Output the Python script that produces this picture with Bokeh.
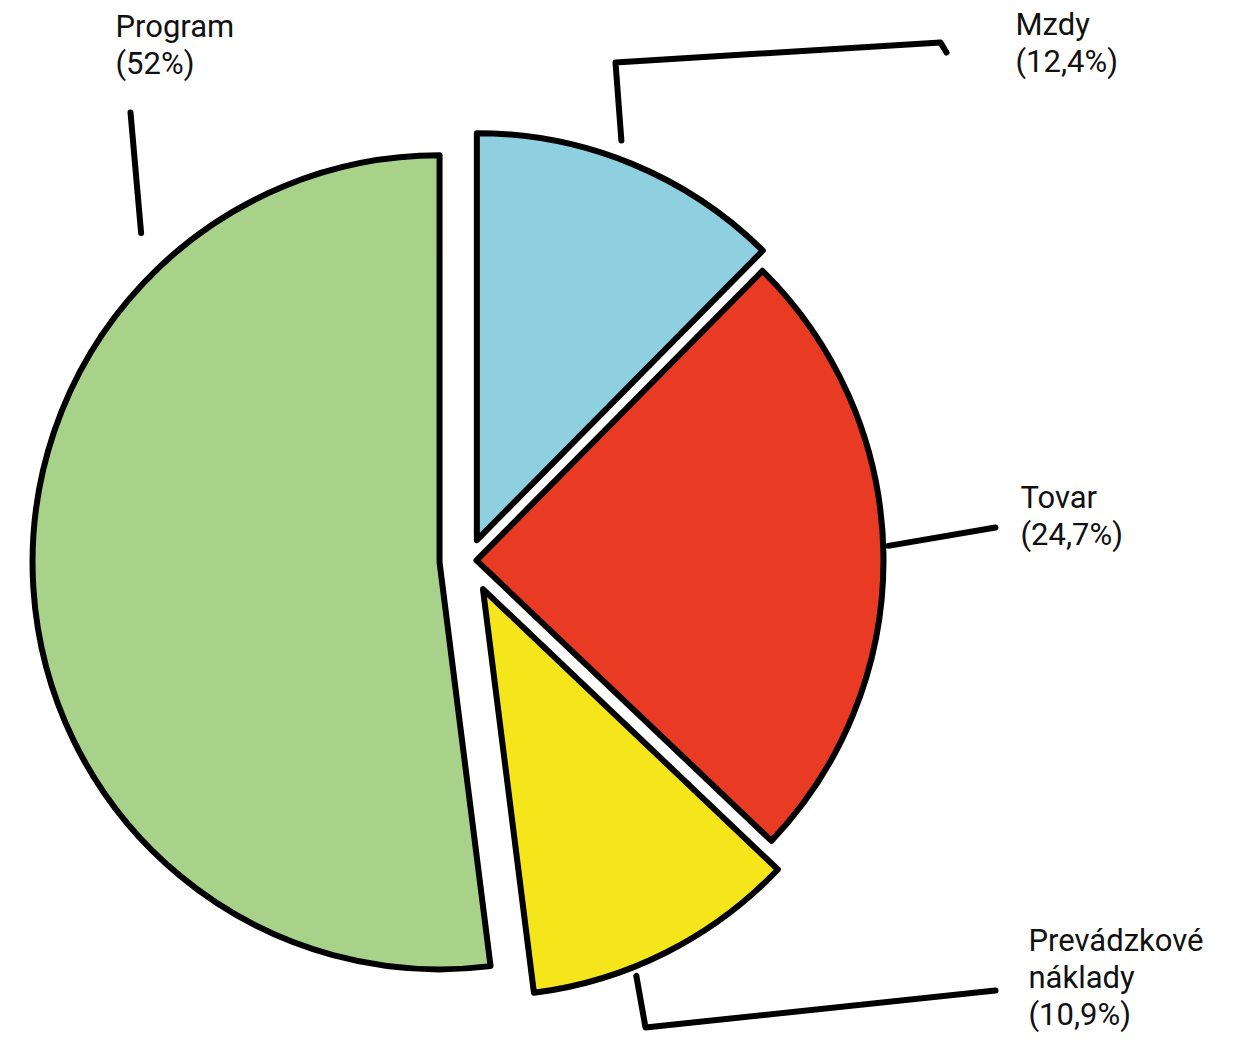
import math
from bokeh.plotting import figure
from bokeh.models import Range1d, ColumnDataSource
from bokeh.core.properties import value
from bokeh.embed import file_html
from bokeh.resources import INLINE

# ---- data ----
categories = ["Mzdy", "Tovar", "Prevádzkové\nnáklady", "Program"]
values = [12.4, 24.7, 10.9, 52.0]
colors = ["#8ecfe0", "#e93a23", "#f5e61b", "#a8d28a"]

# ---- style / layout ----
W, H = 1246, 1048
CX, CY = 468, 560          # pie centre (screen px)
R = 407                    # radius (px)
explode = [22, 8, 32, 29]  # px offset of each slice along its bisector
FONT = "Roboto"
LINE_STEP = 37             # px between label lines

def sy(y):
    return H - y  # screen y -> data y (y-up)

p = figure(width=W - 16, height=H - 16, output_backend="svg", toolbar_location=None,
           x_range=Range1d(0, W - 16), y_range=Range1d(16, H), min_border=0)
p.axis.visible = False
p.grid.visible = False
p.outline_line_color = None
p.background_fill_color = "white"

total = sum(values)
bounds = [90.0]
for v in values:
    bounds.append(bounds[-1] - 360.0 * v / total)

xs, ys, starts, ends = [], [], [], []
for i in range(len(values)):
    a_hi, a_lo = bounds[i], bounds[i + 1]
    mid = math.radians((a_hi + a_lo) / 2)
    xs.append(CX + explode[i] * math.cos(mid))
    ys.append(sy(CY) + explode[i] * math.sin(mid))
    starts.append(math.radians(a_lo))
    ends.append(math.radians(a_hi))

src = ColumnDataSource(dict(x=xs, y=ys, s=starts, e=ends, c=colors))
p.wedge(x="x", y="y", radius=R, start_angle="s", end_angle="e", source=src,
        fill_color="c", line_color="black", line_width=6, line_join="round")

# ---- leader lines (start on pie edge at given angle/distance, then elbow(s)) ----
leader_angle = [70, 2, -68, 135]      # degrees from centre
leader_dist = [447, 420, 448, 463]
leader_rest = [
    [(615, 62), (940, 42), (946, 52)],
    [(995, 527)],
    [(645, 1027), (995, 990)],
    [(130, 112)],
]
for ang, d, rest in zip(leader_angle, leader_dist, leader_rest):
    a = math.radians(ang)
    px0 = CX + d * math.cos(a)
    py0 = CY - d * math.sin(a)
    lx = [px0] + [q[0] for q in rest]
    ly = [sy(py0)] + [sy(q[1]) for q in rest]
    p.line(lx, ly, line_color="black", line_width=6, line_cap="round", line_join="round")

# ---- labels (one text per line) ----
label_pos = [(1015, 5), (1020, 478), (1028, 921), (115, 7)]
def fmt(v):
    return f"{v:g}".replace(".", ",")
tx, ty, tt = [], [], []
for (lx0, ly0), c, v in zip(label_pos, categories, values):
    lines = c.split("\n") + [f"({fmt(v)}%)"]
    for k, s in enumerate(lines):
        tx.append(lx0)
        ty.append(sy(ly0 + k * LINE_STEP))
        tt.append(s)
lsrc = ColumnDataSource(dict(x=tx, y=ty, t=tt))
p.text(x="x", y="y", text="t", source=lsrc, text_font=value(FONT), text_font_size="31px",
       text_color="#111111", text_baseline="top", text_align="left")

open("out.html", "w").write(file_html(p, INLINE))
